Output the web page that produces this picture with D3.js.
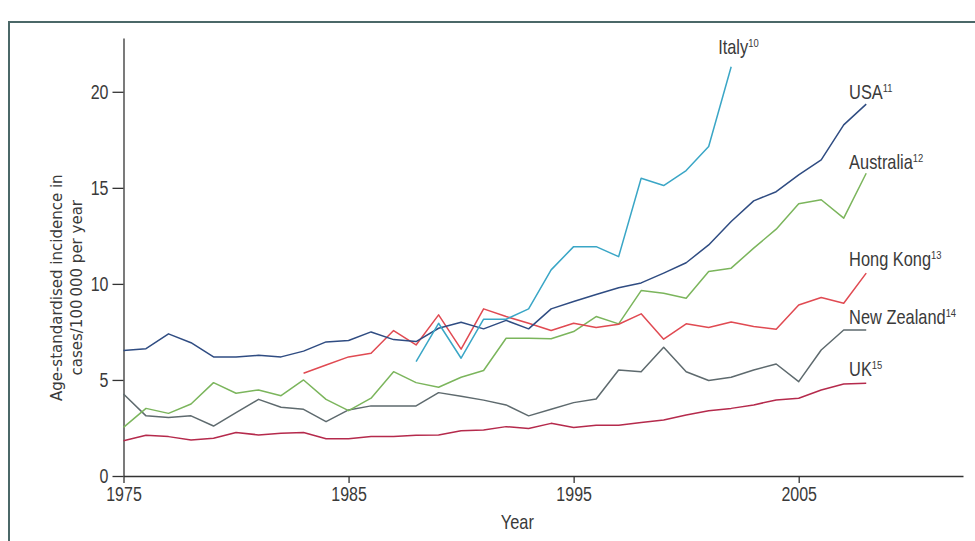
<!DOCTYPE html>
<html><head><meta charset="utf-8">
<script src="https://cdn.jsdelivr.net/npm/d3@7"></script>
<style>
html,body{margin:0;padding:0;background:#fff;}
svg{display:block;}
</style></head>
<body>
<script>
// ---- data ----
const years = d3.range(1975, 2009);
const usa = [6.53,6.63,7.4,6.94,6.2,6.2,6.28,6.2,6.5,6.98,7.05,7.5,7.1,7.0,7.69,8.0,7.66,8.1,7.66,8.7,9.08,9.45,9.8,10.05,10.56,11.1,12.03,13.25,14.32,14.8,15.68,16.46,18.28,19.36];
const italyYears = d3.range(1988, 2003);
const italy = [5.95,7.95,6.13,8.16,8.16,8.7,10.73,11.94,11.94,11.42,15.5,15.12,15.9,17.15,21.3];
const australia = [2.53,3.52,3.26,3.75,4.86,4.31,4.48,4.18,5.0,3.99,3.4,4.05,5.43,4.86,4.62,5.14,5.49,7.17,7.17,7.14,7.52,8.3,7.92,9.65,9.51,9.25,10.64,10.82,11.86,12.85,14.17,14.38,13.42,15.76];
const hkYears = d3.range(1983, 2009);
const hongKong = [5.35,5.78,6.2,6.39,7.57,6.82,8.39,6.6,8.7,8.3,7.95,7.57,7.95,7.73,7.9,8.44,7.12,7.92,7.73,8.02,7.78,7.64,8.9,9.29,8.99,10.56];
const newZealand = [4.27,3.13,3.04,3.13,2.6,3.3,3.99,3.58,3.47,2.83,3.44,3.65,3.65,3.65,4.34,4.15,3.95,3.7,3.13,3.47,3.82,4.01,5.52,5.43,6.7,5.43,4.97,5.14,5.52,5.83,4.91,6.56,7.6,7.6];
const uk = [1.84,2.12,2.05,1.88,1.96,2.26,2.14,2.22,2.26,1.94,1.94,2.05,2.05,2.12,2.14,2.36,2.4,2.57,2.47,2.74,2.53,2.64,2.64,2.78,2.92,3.18,3.4,3.52,3.7,3.96,4.05,4.48,4.79,4.83];
const seriesNames = ["Italy","USA","Australia","Hong Kong","New Zealand","UK"];
const seriesRefs = ["10","11","12","13","14","15"];
const xTicks = [1975,1985,1995,2005];
const yTicks = [0,5,10,15,20];

// ---- layout ----
const W = 975, H = 541;
const colors = {"Italy":"#3aa6c6","USA":"#2f4c82","Australia":"#7bb55c","Hong Kong":"#e04a52","New Zealand":"#5e6a6e","UK":"#b52a4c"};
const labelPos = { // anchor in data units (year, value) for label baselines
  "Italy":[2001.42,21.95],"USA":[2007.24,19.64],"Australia":[2007.24,15.99],
  "Hong Kong":[2007.24,10.94],"New Zealand":[2007.24,7.92],"UK":[2007.24,5.2]
};
const SX = 0.82; // horizontal condensing of the narrow display font

const x = d3.scaleLinear().domain([1975, 2012.3]).range([123.5, 963]);
const y = d3.scaleLinear().domain([0, 22.8]).range([476, 38]);

const svg = d3.select("body").append("svg").attr("width", W).attr("height", H);
svg.append("rect").attr("width", W).attr("height", H).attr("fill", "#fff");
// frame
svg.append("rect").attr("x", 9).attr("y", 22).attr("width", 1000).attr("height", 600)
  .attr("fill", "none").attr("stroke", "#4b6868").attr("stroke-width", 2);

const tickFont = "'Liberation Sans','Arial',sans-serif";

// axes
const yAxis = svg.append("g").attr("transform", `translate(${x(1975)},0)`)
  .call(d3.axisLeft(y).tickValues(yTicks).tickSize(11).tickPadding(4).tickSizeOuter(0));
const xAxis = svg.append("g").attr("transform", `translate(0,${y(0)})`)
  .call(d3.axisBottom(x).tickValues(xTicks).tickFormat(d3.format("d")).tickSize(7).tickPadding(4).tickSizeOuter(0));
[yAxis, xAxis].forEach(g => {
  g.selectAll("path,line").attr("stroke", "#333").attr("stroke-width", 1.3);
  g.selectAll("text").attr("fill", "#3a3a3a").style("font-family", tickFont).style("font-size", "19.5px")
    .attr("transform", `scale(${SX},1)`);
});
yAxis.selectAll("text").attr("x", -15 / SX);

// titles
svg.append("text").attr("transform", `translate(${x(1992.5)},529) scale(${SX},1)`).attr("text-anchor", "middle")
  .style("font-family", tickFont).style("font-size", "20px").attr("fill", "#3a3a3a").text("Year");
const yt = svg.append("text").attr("transform", `translate(62,${y(9.8)}) rotate(-90)`)
  .attr("text-anchor", "middle").style("font-family", "'DejaVu Sans',sans-serif")
  .style("font-size", "15px").attr("fill", "#3a3a3a");
yt.append("tspan").attr("x", 0).attr("dy", 0).text("Age-standardised incidence in");
yt.append("tspan").attr("x", 0).attr("dy", 20).text("cases/100\u2009000 per year");

// lines
const line = d3.line().x(d => x(d[0])).y(d => y(d[1]));
const seriesData = {
  "Italy": italyYears.map((yr, i) => [yr, italy[i]]),
  "USA": years.map((yr, i) => [yr, usa[i]]),
  "Australia": years.map((yr, i) => [yr, australia[i]]),
  "Hong Kong": hkYears.map((yr, i) => [yr, hongKong[i]]),
  "New Zealand": years.map((yr, i) => [yr, newZealand[i]]),
  "UK": years.map((yr, i) => [yr, uk[i]])
};
const drawOrder = ["UK","New Zealand","Australia","Hong Kong","USA","Italy"];
drawOrder.forEach(name => {
  svg.append("path").datum(seriesData[name]).attr("d", line)
    .attr("fill", "none").attr("stroke", colors[name]).attr("stroke-width", 1.5)
    .attr("stroke-linejoin", "round");
});

// labels
seriesNames.forEach((name, i) => {
  const [lx, lv] = labelPos[name];
  const t = svg.append("text")
    .attr("transform", `translate(${x(lx)},${y(lv)}) scale(${SX},1)`)
    .style("font-family", tickFont).style("font-size", "20px").attr("fill", "#3a3a3a");
  t.append("tspan").text(name);
  t.append("tspan").attr("dy", -7).style("font-size", "11.5px").text(seriesRefs[i]);
});
</script>
</body></html>
